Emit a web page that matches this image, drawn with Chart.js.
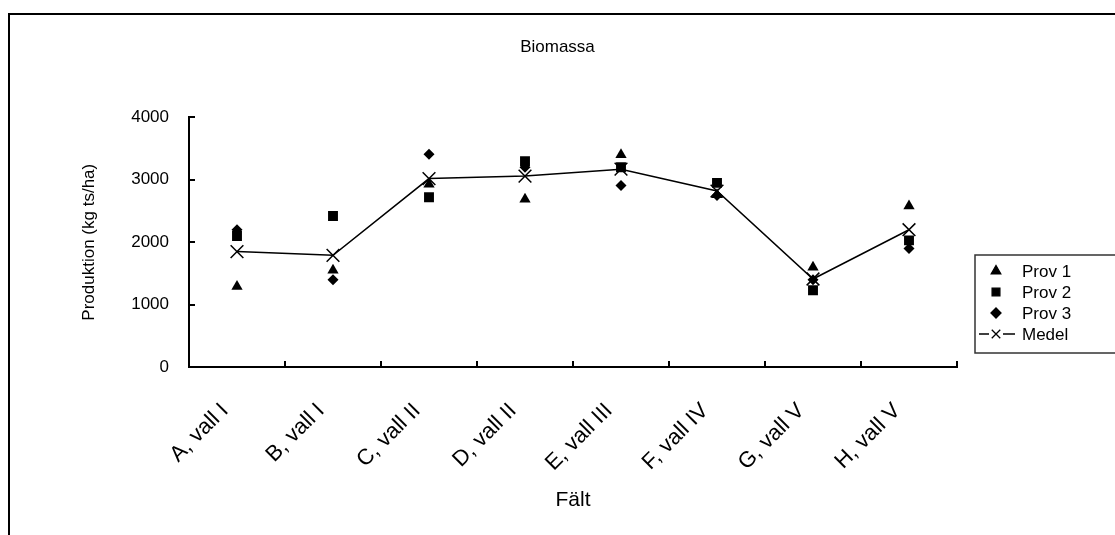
<!DOCTYPE html>
<html>
<head>
<meta charset="utf-8">
<script src="https://cdn.jsdelivr.net/npm/chart.js@4.4.1/dist/chart.umd.min.js"></script>
<style>
  html, body { margin: 0; padding: 0; background: #fff; }
  #wrap { width: 1115px; height: 535px; position: relative; }
</style>
</head>
<body>
<div id="wrap"><canvas id="chart"></canvas></div>
<script>
  const fields = ["A, vall I", "B, vall I", "C, vall II", "D, vall II", "E, vall III", "F, vall IV", "G, vall V", "H, vall V"];
  const prov1 = [1290, 1550, 2930, 2690, 3400, 2760, 1600, 2580];
  const prov2 = [2100, 2420, 2720, 3300, 3200, 2950, 1230, 2030];
  const prov3 = [2200, 1400, 3410, 3200, 2910, 2750, 1400, 1900];
  const medel = [1850, 1790, 3020, 3060, 3170, 2820, 1410, 2200];
  const yTicks = [0, 1000, 2000, 3000, 4000];

  const FONT = "'Liberation Sans', Arial, sans-serif";
  Chart.defaults.font.family = FONT;
  Chart.defaults.font.size = 17;
  Chart.defaults.color = "#000";

  // frame, inner tick marks and the boxed legend
  const decorations = {
    id: "decorations",
    afterDraw(chart) {
      const ctx = chart.ctx;
      const x = chart.scales.x;
      const y = chart.scales.y;
      ctx.save();
      ctx.strokeStyle = "#000";

      // outer frame (runs off the right and bottom edge)
      ctx.lineWidth = 2;
      ctx.strokeRect(9, 14, 1200, 600);

      // x ticks at category boundaries, pointing up
      ctx.lineWidth = 2;
      ctx.beginPath();
      for (let i = 0; i <= fields.length; i++) {
        const px = Math.round(x.getPixelForValue(i - 0.5));
        ctx.moveTo(px, y.bottom);
        ctx.lineTo(px, y.bottom - 6);
      }
      // y ticks pointing right
      yTicks.forEach((v) => {
        const py = Math.round(y.getPixelForValue(v));
        ctx.moveTo(x.left, py);
        ctx.lineTo(x.left + 6, py);
      });
      ctx.stroke();

      // legend
      const lx = 975, ly = 255, lh = 21;
      ctx.lineWidth = 1.5;
      ctx.strokeStyle = "#333";
      ctx.strokeRect(lx, ly, 200, 98);
      ctx.font = "17px " + FONT;
      ctx.fillStyle = "#000";
      ctx.textBaseline = "middle";
      chart.data.datasets.forEach((ds, i) => {
        const cy = ly + 16 + i * lh;
        const sx = 996;
        if (ds.showLine !== false) {
          ctx.strokeStyle = "#000";
          ctx.lineWidth = 1.5;
          ctx.beginPath();
          ctx.moveTo(sx - 17, cy);
          ctx.lineTo(sx - 7, cy);
          ctx.moveTo(sx + 7, cy);
          ctx.lineTo(sx + 19, cy);
          ctx.stroke();
        }
        ctx.fillStyle = "#000";
        ctx.strokeStyle = "#000";
        ctx.lineWidth = 1.3;
        Chart.helpers.drawPoint(ctx, {
          pointStyle: ds.pointStyle,
          radius: ds.legendRadius,
          rotation: 0,
          borderWidth: 1.3
        }, sx, cy);
        ctx.fillText(ds.label, 1022, cy + 1);
      });
      ctx.restore();
    }
  };

  new Chart(document.getElementById("chart"), {
    type: "line",
    data: {
      labels: fields,
      datasets: [
        {
          label: "Prov 1",
          data: prov1,
          showLine: false,
          pointStyle: "triangle",
          pointRadius: 6.5,
          legendRadius: 5.5,
          backgroundColor: "#000",
          borderColor: "#000",
          pointBorderWidth: 0,
        },
        {
          label: "Prov 2",
          data: prov2,
          showLine: false,
          pointStyle: "rect",
          pointRadius: 7,
          legendRadius: 5.5,
          backgroundColor: "#000",
          borderColor: "#000",
          pointBorderWidth: 0,
        },
        {
          label: "Prov 3",
          data: prov3,
          showLine: false,
          pointStyle: "rectRot",
          pointRadius: 5.5,
          legendRadius: 5,
          backgroundColor: "#000",
          borderColor: "#000",
          pointBorderWidth: 0,
        },
        {
          label: "Medel",
          data: medel,
          pointStyle: "crossRot",
          pointRadius: 9,
          legendRadius: 6,
          borderColor: "#000",
          backgroundColor: "#000",
          borderWidth: 1.5,
          pointBorderWidth: 1.5,
          tension: 0,
        },
      ],
    },
    options: {
      responsive: true,
      maintainAspectRatio: false,
      animation: false,
      layout: { padding: 0 },
      plugins: {
        legend: { display: false },
        tooltip: { enabled: false },
        title: {
          display: true,
          text: "Biomassa",
          font: { size: 17, weight: "normal" },
          color: "#000",
          padding: { top: 37, bottom: 60 },
        },
      },
      scales: {
        x: {
          offset: true,
          grid: { display: false, drawTicks: false },
          border: { display: true, color: "#000", width: 2 },
          ticks: {
            autoSkip: false,
            maxRotation: 45,
            minRotation: 45,
            padding: 31,
            labelOffset: -12,
            font: { size: 22 },
          },
          title: {
            display: true,
            text: "Fält",
            font: { size: 21 },
            padding: { top: 0, bottom: 22 },
          },
          afterFit: (s) => { s.height = 168; },
        },
        y: {
          min: 0,
          max: 4000,
          grid: { display: false, drawTicks: false },
          border: { display: true, color: "#000", width: 2 },
          afterBuildTicks: (s) => { s.ticks = yTicks.map((v) => ({ value: v })); },
          ticks: { padding: 20, font: { size: 17 }, callback: (v) => String(v) },
          title: {
            display: true,
            text: "Produktion (kg ts/ha)",
            font: { size: 17 },
            padding: { top: 79, bottom: 0 },
          },
          afterFit: (s) => { s.width = 189; },
        },
        // empty right-hand strip that keeps room for the legend
        side: {
          axis: "y",
          position: "right",
          grid: { display: false, drawTicks: false },
          border: { display: false },
          ticks: { display: false },
          afterFit: (s) => { s.width = 158; },
        },
      },
    },
    plugins: [decorations],
  });
</script>
</body>
</html>
